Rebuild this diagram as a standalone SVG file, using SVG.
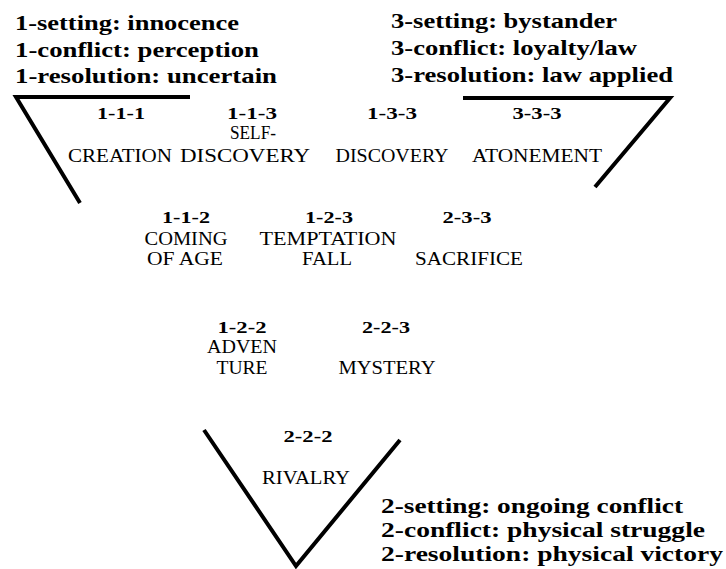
<svg xmlns="http://www.w3.org/2000/svg" width="726" height="569" viewBox="0 0 726 569">
  <rect width="726" height="569" fill="#fff"/>

  <!-- level boundaries -->
  <g id="connectors" fill="none" stroke="#000" stroke-width="4">
    <polyline points="190,97 16,97 80,203"/>
    <polyline points="463,98 670,98 595,187"/>
    <polyline points="204,430 296,566 400,440"/>
  </g>

  <!-- level descriptions -->
  <g id="level1-notes" font-family="Liberation Serif" font-weight="bold" font-size="22">
    <text x="15" y="30" textLength="224" lengthAdjust="spacingAndGlyphs">1-setting: innocence</text>
    <text x="15" y="57" textLength="244" lengthAdjust="spacingAndGlyphs">1-conflict: perception</text>
    <text x="15" y="83" textLength="262" lengthAdjust="spacingAndGlyphs">1-resolution: uncertain</text>
  </g>
  <g id="level3-notes" font-family="Liberation Serif" font-weight="bold" font-size="22">
    <text x="391" y="28" textLength="226" lengthAdjust="spacingAndGlyphs">3-setting: bystander</text>
    <text x="391" y="55" textLength="246" lengthAdjust="spacingAndGlyphs">3-conflict: loyalty/law</text>
    <text x="391" y="82" textLength="282" lengthAdjust="spacingAndGlyphs">3-resolution: law applied</text>
  </g>
  <g id="level2-notes" font-family="Liberation Serif" font-weight="bold" font-size="22">
    <text x="381" y="513" textLength="302" lengthAdjust="spacingAndGlyphs">2-setting: ongoing conflict</text>
    <text x="381" y="537" textLength="324" lengthAdjust="spacingAndGlyphs">2-conflict: physical struggle</text>
    <text x="381" y="561" textLength="342" lengthAdjust="spacingAndGlyphs">2-resolution: physical victory</text>
  </g>

  <!-- story types: bold code above, plain name below -->
  <g id="types" font-family="Liberation Serif" text-anchor="middle">
    <g id="n111">
      <text font-weight="bold" font-size="17" x="121" y="119" textLength="48" lengthAdjust="spacingAndGlyphs">1-1-1</text>
      <text font-size="18" x="120" y="162" textLength="104" lengthAdjust="spacingAndGlyphs">CREATION</text>
    </g>
    <g id="n113">
      <text font-weight="bold" font-size="17" x="252" y="119" textLength="50" lengthAdjust="spacingAndGlyphs">1-1-3</text>
      <text font-size="18" x="253" y="139" textLength="46" lengthAdjust="spacingAndGlyphs">SELF-</text>
      <text font-size="18" x="245" y="162" textLength="130" lengthAdjust="spacingAndGlyphs">DISCOVERY</text>
    </g>
    <g id="n133">
      <text font-weight="bold" font-size="17" x="392" y="119" textLength="50" lengthAdjust="spacingAndGlyphs">1-3-3</text>
      <text font-size="18" x="392" y="162" textLength="113" lengthAdjust="spacingAndGlyphs">DISCOVERY</text>
    </g>
    <g id="n333">
      <text font-weight="bold" font-size="17" x="537" y="119" textLength="49" lengthAdjust="spacingAndGlyphs">3-3-3</text>
      <text font-size="18" x="537" y="162" textLength="130" lengthAdjust="spacingAndGlyphs">ATONEMENT</text>
    </g>
    <g id="n112">
      <text font-weight="bold" font-size="17" x="186" y="223" textLength="48" lengthAdjust="spacingAndGlyphs">1-1-2</text>
      <text font-size="18" x="186" y="245" textLength="83" lengthAdjust="spacingAndGlyphs">COMING</text>
      <text font-size="18" x="185" y="265" textLength="76" lengthAdjust="spacingAndGlyphs">OF AGE</text>
    </g>
    <g id="n123">
      <text font-weight="bold" font-size="17" x="329" y="223" textLength="48" lengthAdjust="spacingAndGlyphs">1-2-3</text>
      <text font-size="18" x="328" y="245" textLength="137" lengthAdjust="spacingAndGlyphs">TEMPTATION</text>
      <text font-size="18" x="327" y="265" textLength="50" lengthAdjust="spacingAndGlyphs">FALL</text>
    </g>
    <g id="n233">
      <text font-weight="bold" font-size="17" x="467" y="223" textLength="49" lengthAdjust="spacingAndGlyphs">2-3-3</text>
      <text font-size="18" x="469" y="265" textLength="108" lengthAdjust="spacingAndGlyphs">SACRIFICE</text>
    </g>
    <g id="n122">
      <text font-weight="bold" font-size="17" x="242" y="333" textLength="49" lengthAdjust="spacingAndGlyphs">1-2-2</text>
      <text font-size="18" x="242" y="353" textLength="70" lengthAdjust="spacingAndGlyphs">ADVEN</text>
      <text font-size="18" x="242" y="374" textLength="51" lengthAdjust="spacingAndGlyphs">TURE</text>
    </g>
    <g id="n223">
      <text font-weight="bold" font-size="17" x="386" y="333" textLength="48" lengthAdjust="spacingAndGlyphs">2-2-3</text>
      <text font-size="18" x="387" y="374" textLength="97" lengthAdjust="spacingAndGlyphs">MYSTERY</text>
    </g>
    <g id="n222">
      <text font-weight="bold" font-size="17" x="308" y="442" textLength="49" lengthAdjust="spacingAndGlyphs">2-2-2</text>
      <text font-size="18" x="306" y="484" textLength="88" lengthAdjust="spacingAndGlyphs">RIVALRY</text>
    </g>
  </g>
</svg>
